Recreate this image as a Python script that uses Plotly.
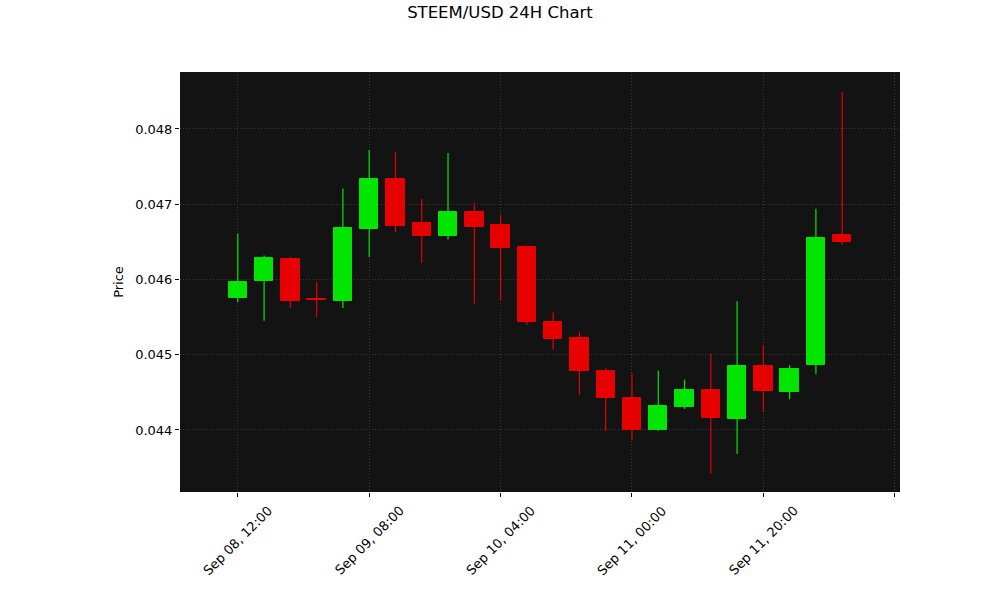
import plotly.graph_objects as go

# Candle times (4h intervals starting Sep 08 12:00)
times = ["Sep 08, 12:00", "Sep 08, 16:00", "Sep 08, 20:00", "Sep 09, 00:00",
         "Sep 09, 04:00", "Sep 09, 08:00", "Sep 09, 12:00", "Sep 09, 16:00",
         "Sep 09, 20:00", "Sep 10, 00:00", "Sep 10, 04:00", "Sep 10, 08:00",
         "Sep 10, 12:00", "Sep 10, 16:00", "Sep 10, 20:00", "Sep 11, 00:00",
         "Sep 11, 04:00", "Sep 11, 08:00", "Sep 11, 12:00", "Sep 11, 16:00",
         "Sep 11, 20:00", "Sep 12, 00:00", "Sep 12, 04:00", "Sep 12, 08:00"]

opens = [0.04575, 0.04598, 0.04627, 0.045745, 0.04572, 0.04667, 0.04734, 0.04675,
         0.04658, 0.04690, 0.04672, 0.04643, 0.04544, 0.04522, 0.04478, 0.04442,
         0.04400, 0.04431, 0.04453, 0.04415, 0.04485, 0.04450, 0.04486, 0.04659]
highs = [0.04661, 0.04632, 0.04630, 0.04597, 0.04721, 0.04772, 0.04769, 0.04707,
         0.04768, 0.04702, 0.04686, 0.04645, 0.04556, 0.04530, 0.04482, 0.04475,
         0.04479, 0.04467, 0.04501, 0.04571, 0.04513, 0.04486, 0.04694, 0.04849]
lows = [0.04570, 0.04545, 0.04562, 0.04550, 0.04562, 0.04630, 0.04663, 0.04622,
        0.04653, 0.04568, 0.04572, 0.04540, 0.04507, 0.04447, 0.04399, 0.04387,
        0.04399, 0.04428, 0.04342, 0.04368, 0.04424, 0.04441, 0.04474, 0.04646]
closes = [0.04597, 0.04629, 0.04572, 0.045725, 0.04668, 0.04734, 0.046715, 0.04658,
          0.04690, 0.04670, 0.04642, 0.04544, 0.04521, 0.04478, 0.04442, 0.04400,
          0.04432, 0.04453, 0.04416, 0.04485, 0.04452, 0.04481, 0.04655, 0.04650]

tick_idx = [0, 5, 10, 15, 20, 25]
tick_text = ["Sep 08, 12:00", "Sep 09, 08:00", "Sep 10, 04:00", "Sep 11, 00:00", "Sep 11, 20:00", ""]
y_ticks = [0.044, 0.045, 0.046, 0.047, 0.048]

UP = "#00e600"
DOWN = "#e60000"

idx = list(range(len(opens)))
fig = go.Figure()

# wicks
for i in idx:
    col = UP if closes[i] >= opens[i] else DOWN
    fig.add_trace(go.Scatter(x=[i, i], y=[lows[i], highs[i]], mode="lines",
                             line=dict(color=col, width=1.2), showlegend=False, hoverinfo="skip"))

# bodies
base = [min(o, c) for o, c in zip(opens, closes)]
height = [max(abs(c - o), 0.00002) for o, c in zip(opens, closes)]
colors = [UP if c >= o else DOWN for o, c in zip(opens, closes)]
fig.add_trace(go.Bar(x=idx, y=height, base=base, width=0.7,
                     marker=dict(color=colors, line=dict(color=colors, width=1)),
                     showlegend=False))

font = "DejaVu Sans, sans-serif"

# rotated x tick labels centred under their ticks (matplotlib style)
for v, t in zip(tick_idx, tick_text):
    if t:
        fig.add_annotation(x=v, y=0, xref="x", yref="paper", text=t, textangle=-45,
                           showarrow=False, xanchor="center", yanchor="top", yshift=-8,
                           font=dict(family=font, size=13, color="black"))

fig.update_layout(
    width=1000, height=600,
    paper_bgcolor="white", plot_bgcolor="#131313",
    margin=dict(l=180, r=100, t=72, b=108),
    title=dict(text="STEEM/USD 24H Chart", x=0.5, xanchor="center", y=1 - 12 / 600, yanchor="middle",
               font=dict(family=font, size=16.5, color="black")),
    font=dict(family=font, size=13, color="black"),
    bargap=0,
)
fig.update_xaxes(range=[-2.2, 25.2], tickmode="array", tickvals=tick_idx,
                 ticktext=["" for _ in tick_idx],
                 ticks="outside", ticklen=4, tickcolor="black",
                 showgrid=True, gridcolor="#3a3a3a", griddash="1px,2px", gridwidth=1,
                 showline=False, zeroline=False)
fig.update_yaxes(range=[0.043176, 0.048757], tickmode="array", tickvals=y_ticks,
                 tickformat=".3f", ticks="outside", ticklen=4, tickcolor="black",
                 showgrid=True, gridcolor="#3a3a3a", griddash="1px,2px", gridwidth=1,
                 showline=False, zeroline=False,
                 title=dict(text="Price", font=dict(family=font, size=13), standoff=8),
                 tickfont=dict(family=font, size=13))

fig.write_html("out.html", config={"displayModeBar": False},
               post_script="document.body.style.margin='0';")
